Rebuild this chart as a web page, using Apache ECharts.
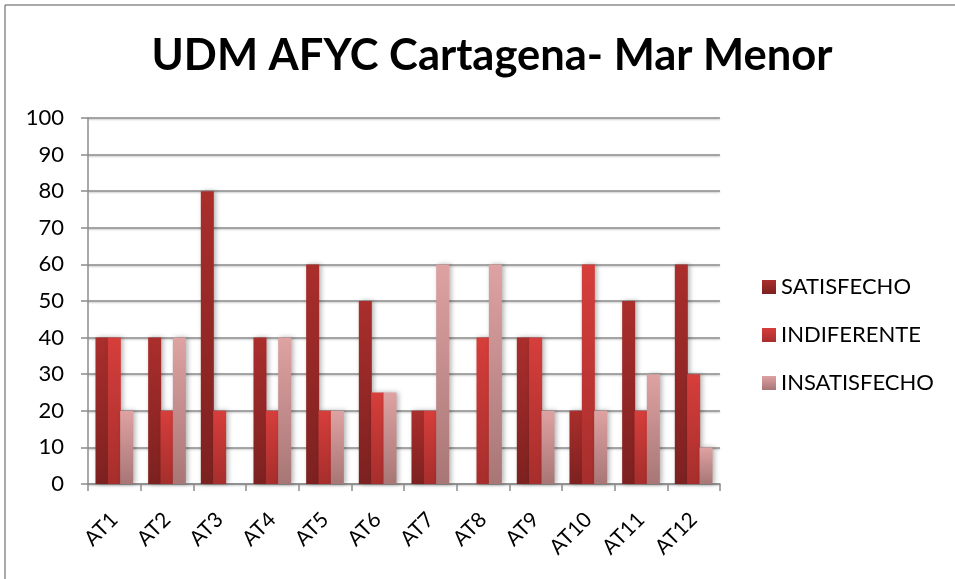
<!DOCTYPE html>
<html><head><meta charset="utf-8">
<script src="https://cdn.jsdelivr.net/npm/echarts@6/dist/echarts.min.js"></script>
<style>html,body{margin:0;padding:0;background:#fff}#c{width:955px;height:579px}</style>
</head><body><div id="c"></div>
<script>
const categories = ['AT1','AT2','AT3','AT4','AT5','AT6','AT7','AT8','AT9','AT10','AT11','AT12'];
const satisfecho = [40,40,80,40,60,50,20,0,40,20,50,60];
const indiferente = [40,20,20,20,20,25,20,40,40,60,20,30];
const insatisfecho = [20,40,0,40,20,25,60,60,20,20,30,10];
const seriesNames = ['SATISFECHO','INDIFERENTE','INSATISFECHO'];
const titleText = 'UDM AFYC Cartagena- Mar Menor';

const FONT = 'Lato, "Open Sans", sans-serif';
function grad(top, bottom){
  return new echarts.graphic.LinearGradient(0,0,0,1,[{offset:0,color:top},{offset:1,color:bottom}]);
}
const colors = [
  grad('#aa2e2c','#7c2120'),
  grad('#d63e3b','#a62e2c'),
  grad('#dea2a2','#a87676')
];
const data = [satisfecho, indiferente, insatisfecho];
const chart = echarts.init(document.getElementById('c'));
chart.setOption({
  animation:false,
  title:{text:titleText,left:487,top:29,textAlign:'center',
    textStyle:{fontFamily:FONT,fontSize:43.5,fontWeight:'bold',color:'#000'}},
  grid:{left:88,top:118,right:235,bottom:95},
  legend:{orient:'vertical',left:757,top:271,itemGap:26,itemWidth:14,itemHeight:14,icon:'rect',
    textStyle:{fontFamily:FONT,fontSize:22,color:'#000'},
    data:seriesNames.map((n,i)=>({name:n,itemStyle:{color:colors[i]}}))},
  xAxis:{type:'category',data:categories,
    axisLine:{lineStyle:{color:'#8c8c8c',width:1.5}},
    axisTick:{show:true,length:7,lineStyle:{color:'#8c8c8c',width:1.5}},
    axisLabel:{rotate:45,fontFamily:FONT,fontSize:21,color:'#000',margin:32}},
  yAxis:{type:'value',min:0,max:100,interval:10,
    axisLine:{show:true,lineStyle:{color:'#8c8c8c',width:1.5}},
    axisTick:{show:true,length:7,lineStyle:{color:'#8c8c8c',width:1.5}},
    axisLabel:{fontFamily:FONT,fontSize:22,color:'#000',margin:24},
    splitLine:{lineStyle:{color:'#8c8c8c',width:1.5,shadowColor:'rgba(0,0,0,0.25)',shadowBlur:2,shadowOffsetY:1}}},
  series: seriesNames.map((n,i)=>({
    name:n,type:'bar',data:data[i],barWidth:13,barGap:'-5%',barCategoryGap:'28%',
    itemStyle:{color:colors[i],shadowColor:'rgba(0,0,0,0.3)',shadowBlur:5,shadowOffsetX:2}
  })),
  graphic:[
    {type:'line',shape:{x1:5,y1:5,x2:955,y2:5},style:{stroke:'#8c8c8c',lineWidth:1.5}},
    {type:'line',shape:{x1:5,y1:5,x2:5,y2:579},style:{stroke:'#8c8c8c',lineWidth:1.5}}
  ]
});
</script></body></html>
